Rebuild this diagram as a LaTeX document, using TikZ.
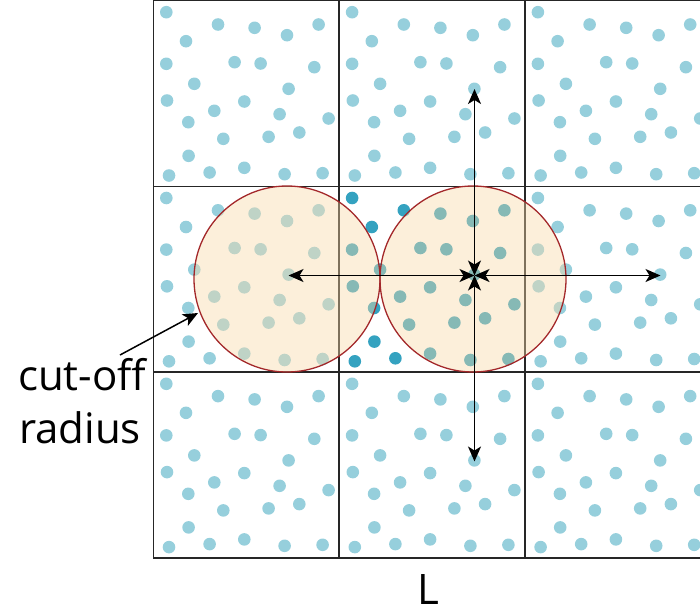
\documentclass[tikz,border=0pt]{standalone}
\usepackage{fontspec}
\setmainfont{Open Sans}
\usetikzlibrary{arrows.meta}
\definecolor{dotlight}{HTML}{96CFDC}
\definecolor{dotdark}{HTML}{34A2C0}
\definecolor{cutfill}{HTML}{F9D9A8}
\definecolor{cutline}{HTML}{A3282A}
\tikzset{
  cellbox/.style={draw=black!85, line width=1.3pt},
  cutcircle/.style={draw=cutline, line width=1.3pt},
  cutfillstyle/.style={fill=cutfill, fill opacity=0.42},
  imgarrow/.style={line width=1.5pt, {Stealth[length=15pt,width=13pt,inset=4pt]}-{Stealth[length=15pt,width=13pt,inset=4pt]}},
  lblarrow/.style={line width=1.5pt, -{Stealth[length=15pt,width=13pt,inset=4pt]}},
  bigtext/.style={font=\fontsize{42}{53}\selectfont, inner sep=0pt}
}
\begin{document}
\begin{tikzpicture}[x=1pt,y=-1pt]
\useasboundingbox (0,0) rectangle (700,613);
\begin{scope}
\clip (0,0) rectangle (700,613);
\foreach \i in {0,1,2}{
  \foreach \j in {0,1,2}{
    \pgfmathsetmacro\ox{153.3+185.8*\i}
    \pgfmathsetmacro\oy{0.5+185.8*\j}
    \ifnum\i=1 \ifnum\j=1 \def\dc{dotdark}\else\def\dc{dotlight}\fi\else\def\dc{dotlight}\fi
    \draw[cellbox] (\ox,\oy) rectangle ++(185.8,185.8);
    \foreach \px/\py in {13/11.7, 64.7/24, 101.3/27.3, 133.7/34.7, 165.3/24, 32.7/40.7,
      13/63.3, 81.3/61.7, 107.3/63, 161/66.7, 41/83.3, 135.3/88.3, 13.7/100, 91/101,
      61/110.3, 126.3/113.7, 175.3/118, 35/121.7, 70/138.3, 115.3/136.3, 146/132,
      35.3/155.3, 15.7/175, 56.3/172, 91/167.3, 131.3/173.7, 169.3/172.7}{
      \fill[\dc] (\ox+\px,\oy+\py) circle[radius=6.3];
    }
  }
}
\coordinate (cL) at (287,279);
\coordinate (cR) at (473,279);
\fill[cutfillstyle] (cL) circle[radius=93];
\fill[cutfillstyle] (cR) circle[radius=93];
\draw[cutcircle] (cL) circle[radius=93];
\draw[cutcircle] (cR) circle[radius=93];
\coordinate (P) at (474.5,275.5);
\coordinate (Pup) at (474.5,89);
\coordinate (Pdown) at (474.5,461.5);
\coordinate (Pleft) at (288.5,275.5);
\coordinate (Pright) at (660.5,275.5);
\draw[imgarrow] (P) -- (Pup);
\draw[imgarrow] (P) -- (Pdown);
\draw[imgarrow] (P) -- (Pleft);
\draw[imgarrow] (P) -- (Pright);
\coordinate (lblstart) at (120,355);
\coordinate (rim) at (198,313);
\draw[lblarrow] (lblstart) -- (rim);
\end{scope}
\node[bigtext, anchor=base] (cutlbl) at (82,390) {cut-off};
\node[bigtext, anchor=base] (radlbl) at (80,443) {radius};
\node[bigtext, anchor=base] (Llbl) at (428,604) {L};
\end{tikzpicture}
\end{document}
